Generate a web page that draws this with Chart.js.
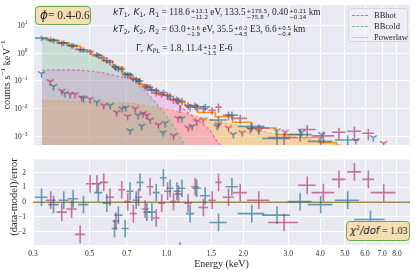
<!DOCTYPE html>
<html>
<head>
<meta charset="utf-8">
<script src="https://cdn.jsdelivr.net/npm/chart.js@4.4.1/dist/chart.umd.min.js"></script>
<style>
body { margin: 0; width: 415px; height: 272px; position: relative; overflow: hidden; background: #fff; color: #262626; font-family: "Liberation Serif", serif; }
canvas { position: absolute; left: 0; }
#chart_top { top: 0; }
#chart_res { top: 148px; }
.ann { position: absolute; white-space: nowrap; font-size: 9.3px; line-height: 11px; }
.mi { font-family: "DejaVu Sans", sans-serif; font-style: italic; font-size: 9px; }
.mi sub, .mi sup { font-style: normal; font-size: 6.3px; line-height: 0; }
.mi sub { vertical-align: -2px; }
.mi sup { vertical-align: 4px; }
.pm { display: inline-block; vertical-align: -4px; font-family: "DejaVu Sans", sans-serif; font-size: 5.6px; line-height: 6px; margin-left: 1px; }
.pm span { display: block; }
.box { position: absolute; background: #f5deb3; border: 1.2px solid #6cae4e; border-radius: 4px; box-sizing: border-box; white-space: nowrap; }
.ytitle { position: absolute; white-space: nowrap; font-size: 10.5px; transform: translate(-50%, -50%) rotate(-90deg); }
.ytitle sup { font-size: 7px; line-height: 0; }
#legend { position: absolute; left: 348px; top: 8px; width: 60px; height: 34px; box-sizing: border-box; background: rgba(238,238,244,0.85); border: 1px solid #d6d6de; border-radius: 3px; font-size: 8.5px; }
.leg_row { position: absolute; left: 0; height: 10px; line-height: 10px; }
.leg_line { position: absolute; left: 3px; top: 5px; width: 16px; border-top: 1.3px dashed; }
.leg_txt { position: absolute; left: 25px; top: 0; }
</style>
</head>
<body>
<canvas id="chart_top" width="415" height="150"></canvas>
<canvas id="chart_res" width="415" height="124"></canvas>

<div class="ytitle" style="left:6px;top:75px">counts s<sup>−1</sup> keV<sup>−1</sup></div>
<div class="ytitle" style="left:13px;top:197px">(data-model)/error</div>

<div class="box" style="left:35px;top:6px;width:56px;height:19px;font-size:11.5px;line-height:17px;padding-left:4px"><span class="mi" style="font-size:12px">ϕ</span>= 0.4-0.6</div>

<div class="ann" style="left:113px;top:7px"><span class="mi">kT<sub>1</sub>, K<sub>1</sub>, R<sub>1</sub></span> = 118.6<span class="pm"><span>+13.1</span><span>−11.2</span></span> eV, 133.5<span class="pm"><span>+178.5</span><span>−75.8</span></span>, 0.40<span class="pm"><span>+0.21</span><span>−0.14</span></span> km</div>
<div class="ann" style="left:113px;top:24px"><span class="mi">kT<sub>2</sub>, K<sub>2</sub>, R<sub>2</sub></span> = 63.0<span class="pm"><span>+1.6</span><span>−1.9</span></span> eV, 35.5<span class="pm"><span>+6.2</span><span>−4.5</span></span> E3, 6.6<span class="pm"><span>+0.5</span><span>−0.4</span></span> km</div>
<div class="ann" style="left:136px;top:43px"><span class="mi"><span style="font-style:normal">Γ</span>, K<sub>PL</sub></span> = 1.8, 11.4<span class="pm"><span>+1.5</span><span>−1.5</span></span> E-6</div>

<div id="legend">
  <div class="leg_row" style="top:1px;width:58px"><div class="leg_line" style="border-color:#ff55cc"></div><div class="leg_txt">BBhot</div></div>
  <div class="leg_row" style="top:12px;width:58px"><div class="leg_line" style="border-color:#7fb88c"></div><div class="leg_txt">BBcold</div></div>
  <div class="leg_row" style="top:23px;width:58px"><div class="leg_line" style="border-color:#ffb540"></div><div class="leg_txt">Powerlaw</div></div>
</div>

<div class="box" style="left:346px;top:221px;width:64px;height:20px;font-size:10px;line-height:18px;padding-left:3px"><span class="mi" style="font-size:10px">χ<sup>2</sup>/dof</span> = 1.03</div>

<script>
// axes
const e_min = 0.3;
const e_max = 9.0;
const x_ticks = [0.3, 0.5, 0.7, 1.0, 1.5, 2.0, 3.0, 4.0, 5.0, 6.0, 7.0, 8.0];
const rate_min = 5e-4;
const rate_max = 53;
const rate_ticks = [1e-3, 1e-2, 1e-1, 1, 10];
const rate_exps = ['\u22123', '\u22122', '\u22121', '0', '1'];
const res_ticks = [-2, -1, 0, 1, 2];
const res_err = 0.6;

// teal spectrum: energy, bin half width, rate, rate error, residual
const teal_e = [0.324, 0.361, 0.396, 0.431, 0.473, 0.541, 0.584, 0.626, 0.648, 0.689, 0.720, 0.761, 0.788, 0.838, 0.877, 0.912, 0.973, 1.034, 1.10, 1.15, 1.238, 1.314, 1.418, 1.60, 1.805, 2.16, 2.71, 3.34, 4.02, 5.13, 6.3];
const teal_hw = [0.018, 0.017, 0.018, 0.020, 0.022, 0.020, 0.021, 0.017, 0.024, 0.022, 0.023, 0.024, 0.025, 0.026, 0.027, 0.028, 0.030, 0.032, 0.034, 0.036, 0.045, 0.050, 0.065, 0.125, 0.10, 0.26, 0.34, 0.36, 0.44, 0.56, 0.86];
const teal_rate = [3.42, 2.85, 2.30, 1.84, 1.32, 0.807, 0.536, 0.324, 0.272, 0.171, 0.164, 0.112, 0.099, 0.0587, 0.0467, 0.0452, 0.0383, 0.0279, 0.0214, 0.0186, 0.0113, 0.0115, 0.0117, 0.00395, 0.00587, 0.00234, 0.000853, 0.00118, 0.000672, 0.000757, 0.0003];
const teal_err = [0.75, 0.63, 0.51, 0.40, 0.29, 0.18, 0.12, 0.08, 0.068, 0.043, 0.041, 0.028, 0.025, 0.015, 0.012, 0.011, 0.0096, 0.0084, 0.0064, 0.0056, 0.0034, 0.0035, 0.0035, 0.0014, 0.0021, 0.0008, 0.00038, 0.00053, 0.0003, 0.00034, 0.00013];
const teal_res = [0.34, -0.16, 0.14, 0.24, -0.16, 0.65, -0.06, -1.78, -0.87, -1.78, 0.75, 0.14, 1.35, -0.67, -0.67, 0.65, 1.66, 0.95, 0.75, 0.95, -0.77, 0.95, 0.44, -1.37, 1.05, -0.77, -0.87, 0.04, -0.16, 0.14, -1.17];

// pink spectrum
const pink_e = [0.352, 0.389, 0.425, 0.459, 0.502, 0.534, 0.568, 0.601, 0.634, 0.668, 0.705, 0.742, 0.777, 0.825, 0.863, 0.912, 0.958, 1.01, 1.066, 1.115, 1.131, 1.216, 1.295, 1.396, 1.51, 1.60, 1.75, 1.945, 2.30, 2.89, 3.56, 4.12, 4.74, 5.45, 6.18, 7.1];
const pink_hw = [0.016, 0.018, 0.020, 0.021, 0.018, 0.020, 0.021, 0.022, 0.020, 0.021, 0.022, 0.023, 0.024, 0.025, 0.026, 0.028, 0.029, 0.031, 0.033, 0.034, 0.012, 0.040, 0.045, 0.060, 0.050, 0.045, 0.086, 0.12, 0.23, 0.39, 0.28, 0.42, 0.29, 0.34, 0.33, 0.79];
const pink_rate = [2.99, 2.27, 1.86, 1.34, 1.13, 0.888, 0.667, 0.467, 0.301, 0.264, 0.170, 0.121, 0.099, 0.0638, 0.0607, 0.0368, 0.0329, 0.0302, 0.0214, 0.0194, 0.0100, 0.0132, 0.0130, 0.0100, 0.00873, 0.0114, 0.00587, 0.00452, 0.00204, 0.000924, 0.00179, 0.00106, 0.00143, 0.00155, 0.00132, 0.0003];
const pink_err = [0.66, 0.50, 0.41, 0.29, 0.25, 0.20, 0.15, 0.11, 0.075, 0.066, 0.043, 0.030, 0.025, 0.016, 0.015, 0.0092, 0.0082, 0.0091, 0.0064, 0.0058, 0.003, 0.004, 0.0039, 0.003, 0.0026, 0.004, 0.0021, 0.0016, 0.0007, 0.00042, 0.0008, 0.00048, 0.00064, 0.0007, 0.0006, 0.00013];
const pink_res = [0.14, -0.67, -0.46, -2.18, 1.25, 1.25, 1.35, 0.34, -1.27, 0.85, 0.04, -0.77, 0.34, -0.46, 1.05, -1.07, -0.06, 0.75, 0.04, 0.55, -3.3, -0.06, 1.05, -0.36, 0.14, 1.35, 0.34, 0.65, 0.14, -1.37, 1.15, 0.65, 1.55, 2.06, 1.55, 0.65];

// background spectra (Y markers)
const teal_bkg_e = [0.324, 0.361, 0.400, 0.474, 0.534, 0.601, 0.670, 0.693, 0.720, 0.774, 0.800, 0.970, 0.988, 1.148, 1.260, 1.578, 1.826, 2.129, 2.30, 2.71, 3.39, 4.06, 6.46];
const teal_bkg_rate = [0.184, 0.0636, 0.0356, 0.0239, 0.0174, 0.0132, 0.0100, 0.0108, 0.00161, 0.00587, 0.00239, 0.00137, 0.00304, 0.00452, 0.00234, 0.00234, 0.00120, 0.00179, 0.00161, 0.00161, 0.00145, 0.00120, 0.000924];
const pink_bkg_e = [0.350, 0.389, 0.419, 0.438, 0.465, 0.502, 0.568, 0.638, 0.705, 0.754, 0.810, 0.838, 0.863, 0.930, 1.066, 1.111, 1.216, 1.315, 1.392, 1.598, 1.750, 1.98, 2.92, 5.52, 7.1];
const pink_bkg_rate = [0.0946, 0.0428, 0.0329, 0.0329, 0.0249, 0.0221, 0.0130, 0.00728, 0.00530, 0.0100, 0.00673, 0.00574, 0.00395, 0.00265, 0.00108, 0.00452, 0.00204, 0.00356, 0.00395, 0.00265, 0.00204, 0.00137, 0.00145, 0.000728, 0.000574];

// folded total model (step line)
const model_e = [0.325, 0.366, 0.395, 0.438, 0.488, 0.533, 0.585, 0.646, 0.707, 0.754, 0.810, 0.886, 0.970, 1.05, 1.131, 1.238, 1.418, 1.699, 1.945, 2.37, 3.054, 3.66, 4.3, 5.0, 6.5];
const model_rate = [3.37, 2.81, 2.30, 1.74, 1.17, 0.820, 0.530, 0.316, 0.181, 0.117, 0.0728, 0.047, 0.0316, 0.0221, 0.0168, 0.0127, 0.00728, 0.00518, 0.00329, 0.00204, 0.00120, 0.000924, 0.000621, 0.00047, 0.000356];

// model components
const bbhot_e = [0.325, 0.383, 0.459, 0.549, 0.617, 0.720, 0.788, 0.922, 1.07, 1.238, 1.355, 1.483, 1.59, 1.65, 1.777];
const bbhot_rate = [0.239, 0.249, 0.239, 0.204, 0.161, 0.117, 0.0853, 0.0428, 0.0189, 0.00621, 0.00329, 0.00161, 0.000621, 0.000418, 0.000189];
const bbcold_e = [0.325, 0.395, 0.488, 0.549, 0.617, 0.675, 0.737, 0.832, 0.903, 0.970, 1.066, 1.172, 1.21];
const bbcold_rate = [3.16, 2.21, 1.08, 0.672, 0.386, 0.221, 0.108, 0.0386, 0.0174, 0.00788, 0.00239, 0.00053, 0.00028];
const pl_e = [0.325, 0.459, 0.601, 0.720, 0.944, 1.32, 1.945, 2.79, 3.66, 4.9, 6.88, 8.25];
const pl_rate = [0.0197, 0.0181, 0.0168, 0.0155, 0.0108, 0.0053, 0.00239, 0.00117, 0.000788, 0.00049, 0.000304, 0.00024];

const zero_e = [e_min, e_max];
const zero_val = [0, 0];

const teal_col = 'rgba(18, 104, 135, 0.62)';
const pink_col = 'rgba(172, 38, 105, 0.62)';
const serif = '"Liberation Serif", serif';

Chart.defaults.font.family = serif;
Chart.defaults.color = '#262626';

function make_points(xs, ys, xe, ye) {
    return xs.map((x, i) => ({
        x: x,
        y: ys[i],
        xe: xe ? xe[i] : 0,
        ye: Array.isArray(ye) ? ye[i] : (ye || 0),
    }));
}

function make_tri(color) {
    const c = document.createElement('canvas');
    c.width = 9;
    c.height = 9;
    const g = c.getContext('2d');
    g.strokeStyle = color;
    g.lineWidth = 1.3;
    g.beginPath();
    g.moveTo(4.5, 4.5); g.lineTo(4.5, 8.5);
    g.moveTo(4.5, 4.5); g.lineTo(1.0, 2.5);
    g.moveTo(4.5, 4.5); g.lineTo(8.0, 2.5);
    g.stroke();
    return c;
}

const plot_bg = {
    id: 'plot_bg',
    beforeDraw(chart) {
        const a = chart.chartArea;
        const ctx = chart.ctx;
        ctx.save();
        ctx.fillStyle = '#eaeaf2';
        ctx.fillRect(a.left, a.top, a.right - a.left, a.bottom - a.top);
        ctx.restore();
    },
};

const err_bars = {
    id: 'err_bars',
    afterDatasetsDraw(chart) {
        const a = chart.chartArea;
        const ctx = chart.ctx;
        const xs = chart.scales.x;
        const ys = chart.scales.y;
        const is_log = ys.type === 'logarithmic';
        ctx.save();
        ctx.beginPath();
        ctx.rect(a.left, a.top, a.right - a.left, a.bottom - a.top);
        ctx.clip();
        chart.data.datasets.forEach((ds) => {
            if (!ds.err_color) {
                return;
            }
            ctx.strokeStyle = ds.err_color;
            ctx.lineWidth = 1.6;
            ds.data.forEach((p) => {
                const px = xs.getPixelForValue(p.x);
                const py = ys.getPixelForValue(p.y);
                const lo = is_log ? Math.max(p.y - p.ye, 1e-9) : p.y - p.ye;
                ctx.beginPath();
                ctx.moveTo(xs.getPixelForValue(p.x - p.xe), py);
                ctx.lineTo(xs.getPixelForValue(p.x + p.xe), py);
                ctx.moveTo(px, ys.getPixelForValue(lo));
                ctx.lineTo(px, ys.getPixelForValue(p.y + p.ye));
                ctx.stroke();
            });
        });
        ctx.restore();
    },
};

const rate_labels = {
    id: 'rate_labels',
    afterDraw(chart) {
        const ys = chart.scales.y;
        const ctx = chart.ctx;
        ctx.save();
        ctx.fillStyle = '#262626';
        ctx.textBaseline = 'middle';
        ctx.textAlign = 'left';
        rate_ticks.forEach((v, i) => {
            const y = ys.getPixelForValue(v);
            ctx.font = '5.5px ' + serif;
            const w_exp = ctx.measureText(rate_exps[i]).width;
            ctx.font = '7.5px ' + serif;
            const w_base = ctx.measureText('10').width;
            const right = 27.5;
            ctx.fillText('10', right - w_exp - w_base, y + 0.5);
            ctx.font = '5.5px ' + serif;
            ctx.fillText(rate_exps[i], right - w_exp, y - 2.5);
        });
        ctx.restore();
    },
};

function x_axis(show_labels) {
    return {
        type: 'logarithmic',
        min: e_min,
        max: e_max,
        afterBuildTicks: (s) => { s.ticks = x_ticks.map((v) => ({ value: v })); },
        afterFit: (s) => { s.height = show_labels ? 27 : 0; },
        grid: { color: '#ffffff', lineWidth: 1, drawTicks: false },
        border: { display: false },
        ticks: {
            display: show_labels,
            autoSkip: false,
            maxRotation: 0,
            padding: 5,
            font: { size: 7.5 },
            callback: (v, i) => x_ticks[i].toFixed(1),
        },
        title: {
            display: show_labels,
            text: 'Energy (keV)',
            font: { size: 10 },
            padding: { top: 0, bottom: 2 },
        },
    };
}

const tri_teal = make_tri('rgba(18, 104, 135, 0.8)');
const tri_pink = make_tri('rgba(172, 38, 105, 0.8)');

new Chart(document.getElementById('chart_top'), {
    type: 'line',
    data: {
        datasets: [
            { data: make_points(pink_e, pink_rate, pink_hw, pink_err), showLine: false, pointRadius: 0, err_color: pink_col },
            { data: make_points(teal_e, teal_rate, teal_hw, teal_err), showLine: false, pointRadius: 0, err_color: teal_col },
            { data: make_points(pink_bkg_e, pink_bkg_rate), showLine: false, pointStyle: tri_pink, pointRadius: 4 },
            { data: make_points(teal_bkg_e, teal_bkg_rate), showLine: false, pointStyle: tri_teal, pointRadius: 4 },
            { data: make_points(model_e, model_rate), stepped: 'middle', borderColor: 'rgba(255, 140, 0, 0.9)', borderWidth: 1.5, pointRadius: 0, fill: false },
            { data: make_points(bbcold_e, bbcold_rate), borderColor: '#7fb88c', borderWidth: 1.2, borderDash: [3, 2], pointRadius: 0, cubicInterpolationMode: 'monotone', fill: 'start', backgroundColor: 'rgba(120, 190, 140, 0.3)' },
            { data: make_points(bbhot_e, bbhot_rate), borderColor: '#ff55cc', borderWidth: 1.2, borderDash: [3, 2], pointRadius: 0, cubicInterpolationMode: 'monotone', fill: 'start', backgroundColor: 'rgba(240, 100, 220, 0.27)' },
            { data: make_points(pl_e, pl_rate), borderColor: '#ffb540', borderWidth: 1.2, borderDash: [3, 2], pointRadius: 0, cubicInterpolationMode: 'monotone', fill: 'start', backgroundColor: 'rgba(255, 175, 60, 0.42)' },
        ],
    },
    options: {
        responsive: false,
        animation: false,
        devicePixelRatio: 1,
        layout: { padding: { top: 2, right: 5, bottom: 2, left: 0 } },
        plugins: { legend: { display: false }, tooltip: { enabled: false } },
        scales: {
            x: x_axis(false),
            y: {
                type: 'logarithmic',
                min: rate_min,
                max: rate_max,
                afterBuildTicks: (s) => { s.ticks = rate_ticks.map((v) => ({ value: v })); },
                afterFit: (s) => { s.width = 33; },
                grid: { color: '#ffffff', lineWidth: 1, drawTicks: false },
                border: { display: false },
                ticks: { display: false },
            },
        },
    },
    plugins: [plot_bg, err_bars, rate_labels],
});

new Chart(document.getElementById('chart_res'), {
    type: 'line',
    data: {
        datasets: [
            { data: make_points(pink_e, pink_res, pink_hw, res_err), showLine: false, pointRadius: 0, err_color: pink_col },
            { data: make_points(teal_e, teal_res, teal_hw, res_err), showLine: false, pointRadius: 0, err_color: teal_col },
            { data: make_points(zero_e, zero_val), borderColor: '#a08a58', borderWidth: 1.6, pointRadius: 0, fill: false },
        ],
    },
    options: {
        responsive: false,
        animation: false,
        devicePixelRatio: 1,
        layout: { padding: { top: 2, right: 5, bottom: 0, left: 0 } },
        plugins: { legend: { display: false }, tooltip: { enabled: false } },
        scales: {
            x: x_axis(true),
            y: {
                type: 'linear',
                min: -2.9,
                max: 2.9,
                afterBuildTicks: (s) => { s.ticks = res_ticks.map((v) => ({ value: v })); },
                afterFit: (s) => { s.width = 33; },
                grid: { color: '#ffffff', lineWidth: 1, drawTicks: false },
                border: { display: false },
                ticks: {
                    padding: 7,
                    font: { size: 7.5 },
                    callback: (v, i) => {
                        const t = res_ticks[i];
                        return t < 0 ? '\u2212' + Math.abs(t) : String(t);
                    },
                },
            },
        },
    },
    plugins: [plot_bg, err_bars],
});
</script>
</body>
</html>
